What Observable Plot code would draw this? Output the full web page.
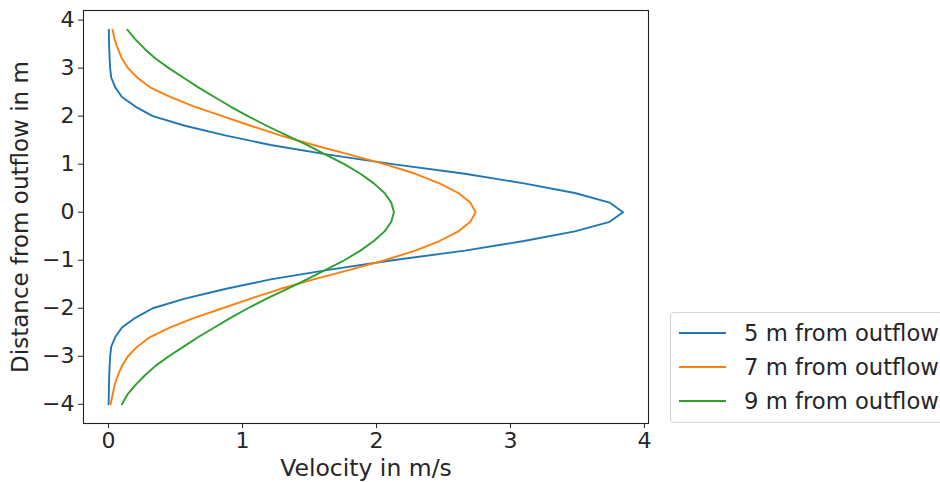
<!DOCTYPE html>
<html><head><meta charset="utf-8">
<script src="https://cdn.jsdelivr.net/npm/d3@7"></script>
<script src="https://cdn.jsdelivr.net/npm/@observablehq/plot@0.6"></script>
<style>
body{margin:0;background:#fff;font-family:"DejaVu Sans",sans-serif;}
#wrap{position:relative;width:940px;height:482px;overflow:hidden;background:#fff}
#legend{position:absolute;left:670px;top:312px;width:300px;height:111px;border:1px solid #d4d4d4;border-radius:4px;box-sizing:border-box;background:#fff}
.item{position:absolute;left:8px;height:24px;display:flex;align-items:center;font-size:22.7px;color:#262626;white-space:nowrap}
.sw{width:47px;height:0;border-top:2px solid;margin-right:18px}
</style>
</head><body><div id="wrap"></div>
<script>
// Distance from outflow (m)
const distances = [-4.0,-3.8,-3.6,-3.4,-3.2,-3.0,-2.8,-2.6,-2.4,-2.2,-2.0,-1.8,-1.6,-1.4,-1.2,-1.0,-0.8,-0.6,-0.4,-0.2,
  0.0,0.2,0.4,0.6,0.8,1.0,1.2,1.4,1.6,1.8,2.0,2.2,2.4,2.6,2.8,3.0,3.2,3.4,3.6,3.8];
// Velocity (m/s) at 5, 7, 9 m from outflow
const vel5 = [0.0,0.002,0.003,0.005,0.008,0.012,0.02,0.05,0.10,0.20,0.33,0.57,0.87,1.21,1.64,2.12,2.66,3.10,3.48,3.74,
  3.84,3.74,3.48,3.10,2.66,2.12,1.64,1.21,0.87,0.57,0.33,0.20,0.10,0.05,0.02,0.012,0.008,0.005,0.003,0.002];
const vel7 = [0.015,0.03,0.045,0.07,0.10,0.145,0.215,0.31,0.46,0.64,0.85,1.06,1.28,1.53,1.80,2.06,2.29,2.47,2.61,2.70,
  2.74,2.70,2.61,2.47,2.29,2.06,1.80,1.53,1.28,1.06,0.85,0.64,0.46,0.31,0.215,0.145,0.10,0.07,0.045,0.03];
const vel9 = [0.10,0.14,0.20,0.27,0.35,0.45,0.56,0.67,0.79,0.91,1.04,1.18,1.33,1.48,1.62,1.76,1.88,1.98,2.06,2.11,
  2.13,2.11,2.06,1.98,1.88,1.76,1.62,1.48,1.33,1.18,1.04,0.91,0.79,0.67,0.56,0.45,0.35,0.27,0.20,0.14];
const seriesNames = ["5 m from outflow","7 m from outflow","9 m from outflow"];
const seriesColors = ["#1f77b4","#ff7f0e","#2ca02c"];
const xTicks = [0,1,2,3,4];
const yTicks = [-4,-3,-2,-1,0,1,2,3,4];
const xLabel = "Velocity in m/s";
const yLabel = "Distance from outflow in m";

const allVel = [vel5, vel7, vel9];
const rows = allVel.flatMap((vs, i) => vs.map((v, j) => ({s: seriesNames[i], v, d: distances[j]})));
const fmt = d3.format("d");

const chart = Plot.plot({
  width: 940, height: 482,
  marginLeft: 83, marginRight: 292, marginTop: 10, marginBottom: 59,
  style: {fontFamily: "DejaVu Sans", fontSize: "22px", color: "#262626", background: "#fff", overflow: "visible"},
  x: {domain: [-0.187, 4.03]},
  y: {domain: [-4.4, 4.2]},
  color: {domain: seriesNames, range: seriesColors},
  marks: [
    Plot.line(rows, {x: "v", y: "d", z: "s", stroke: "s", strokeWidth: 1.9}),
    Plot.frame({stroke: "#222", strokeWidth: 1.1}),
    Plot.axisX({ticks: xTicks, tickSize: 5, tickPadding: 4, tickFormat: fmt, label: null, fontSize: 22, stroke: "#222"}),
    Plot.axisY({ticks: yTicks, tickSize: 5, tickPadding: 4, tickFormat: fmt, label: null, fontSize: 22, stroke: "#222"}),
    Plot.text([xLabel], {frameAnchor: "bottom", dy: 45, lineAnchor: "middle", text: d => d, fontSize: 23.5, fill: "#262626"}),
    Plot.text([yLabel], {frameAnchor: "left", dx: -63, rotate: -90, textAnchor: "middle", lineAnchor: "middle", text: d => d, fontSize: 23, fill: "#262626"})
  ]
});
const wrap = document.getElementById("wrap");
wrap.appendChild(chart);

const legend = document.createElement("div");
legend.id = "legend";
const tops = [20, 54, 88];
seriesNames.forEach((name, i) => {
  const it = document.createElement("div");
  it.className = "item";
  it.style.top = (tops[i] - 12) + "px";
  const sw = document.createElement("span");
  sw.className = "sw";
  sw.style.borderColor = seriesColors[i];
  const tx = document.createElement("span");
  tx.textContent = name;
  it.appendChild(sw); it.appendChild(tx);
  legend.appendChild(it);
});
wrap.appendChild(legend);
</script>
</body></html>
